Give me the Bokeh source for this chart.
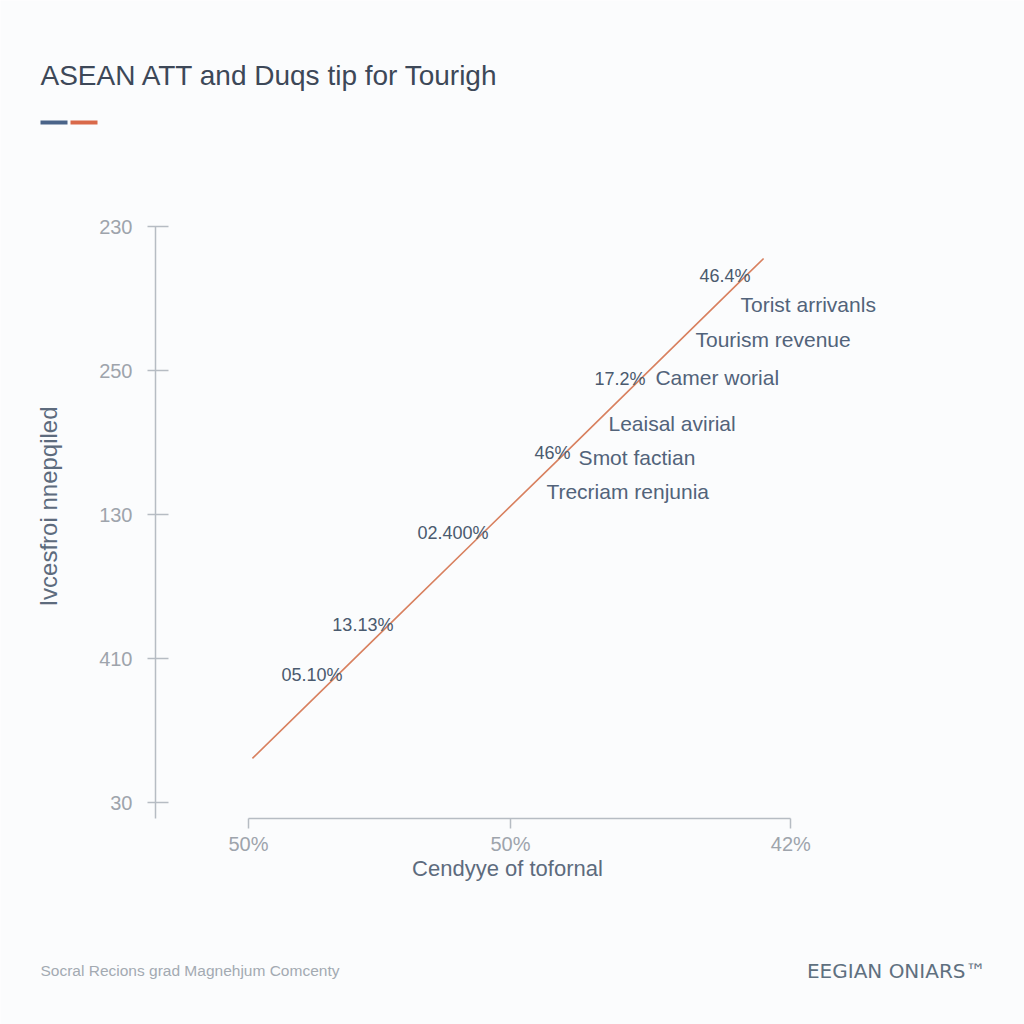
import math
from bokeh.plotting import figure
from bokeh.models import Range1d, FixedTicker, ColumnDataSource, LinearAxis
from bokeh.core.properties import value
from bokeh.embed import file_html
from bokeh.resources import INLINE

# ---------------- data ----------------
title_text = "ASEAN ATT and Duqs tip for Tourigh"
y_axis_title = "Ivcesfroi nnepqiled"
x_axis_title = "Cendyye of tofornal"
source_note = "Socral Recions grad Magnehjum Comcenty"
brand_note = "EEGIAN ONIARS\u2122"

y_tick_pos = [0, 1, 2, 3, 4]
y_tick_labels = ["30", "410", "130", "250", "230"]
x_tick_pos = [0.0, 1.0, 2.07]
x_tick_labels = ["50%", "50%", "42%"]

line_x = [0.015, 0.34, 0.534, 0.897, 1.21, 1.496, 1.897, 1.966]
line_y = [0.306, 0.885, 1.23, 1.875, 2.43, 2.94, 3.655, 3.778]

pct_x = [0.34, 0.534, 0.897, 1.21, 1.496, 1.897]
pct_y = [0.885, 1.23, 1.875, 2.43, 2.94, 3.655]
pct_labels = ["05.10%", "13.13%", "02.400%", "46%", "17.2%", "46.4%"]

cat_labels = ["Torist arrivanls", "Tourism revenue", "Camer worial",
              "Leaisal avirial", "Smot factian", "Trecriam renjunia"]
cat_x = [1.878, 1.706, 1.553, 1.374, 1.260, 1.137]
cat_y = [3.458, 3.215, 2.951, 2.632, 2.396, 2.160]

# ---------------- styles ----------------
BG = "#fbfcfd"
FONT = "Liberation Sans"
TEXT_DARK = "#3d4858"
TEXT_MID = "#52637a"
TEXT_LIGHT = "#9ea4ac"
AXIS_COL = "#b6bcc3"
LINE_COL = "#d8805f"

# page-pixel scale of the data space (x unit = 262 px from x=248, y unit = 144 px from y=802)
X0, XS, Y0, YS = 248.0, 262.0, 802.0, 144.0


def dx(px):
    return (px - X0) / XS


def dy(py):
    return (Y0 - py) / YS


p = figure(width=1024, height=1024,
           x_range=Range1d(dx(0), dx(1024)), y_range=Range1d(dy(1024), dy(0)),
           output_backend="svg", toolbar_location=None,
           x_axis_location=None, y_axis_location=None,
           min_border=0, min_border_left=0, min_border_right=0,
           min_border_top=0, min_border_bottom=0)
p.grid.visible = False
p.outline_line_color = None
p.background_fill_color = BG
p.border_fill_color = BG

yaxis = LinearAxis(fixed_location=dx(155), bounds=(dy(818), 4.0),
                   ticker=FixedTicker(ticks=y_tick_pos),
                   major_label_overrides={t: l for t, l in zip(y_tick_pos, y_tick_labels)},
                   major_tick_out=8, major_tick_in=13, major_label_standoff=15)
xaxis = LinearAxis(fixed_location=dy(818), bounds=(0.0, 2.07),
                   ticker=FixedTicker(ticks=x_tick_pos),
                   major_label_overrides={t: l for t, l in zip(x_tick_pos, x_tick_labels)},
                   major_tick_out=10, major_tick_in=0, major_label_standoff=4)
for ax in (xaxis, yaxis):
    ax.axis_line_color = AXIS_COL
    ax.axis_line_width = 1.5
    ax.major_tick_line_color = AXIS_COL
    ax.major_tick_line_width = 1.5
    ax.minor_tick_line_color = None
    ax.major_label_text_font = FONT
    ax.major_label_text_font_size = "20px"
    ax.major_label_text_color = TEXT_LIGHT
p.add_layout(yaxis, "left")
p.add_layout(xaxis, "below")

# axis titles
p.text(x=[dx(48)], y=[dy(506)], text=[y_axis_title], angle=math.pi / 2,
       text_font=value(FONT), text_font_size="24px", text_color="#5d6b7d",
       text_align="center", text_baseline="middle")
p.text(x=[dx(507)], y=[dy(868)], text=[x_axis_title],
       text_font=value(FONT), text_font_size="22px", text_color="#5d6b7d",
       text_align="center", text_baseline="middle")

# data line and annotations
p.line(line_x, line_y, line_color=LINE_COL, line_width=1.6)

pct_src = ColumnDataSource(dict(x=pct_x, y=pct_y, t=pct_labels))
p.text(x="x", y="y", text="t", source=pct_src, text_font=value(FONT),
       text_font_size="18px", text_color="#4a5a6e", text_align="right",
       text_baseline="middle", x_offset=5, y_offset=0)

cat_src = ColumnDataSource(dict(x=cat_x, y=cat_y, t=cat_labels))
p.text(x="x", y="y", text="t", source=cat_src, text_font=value(FONT),
       text_font_size="21px", text_color=TEXT_MID, text_align="left",
       text_baseline="middle")

# title, accent bars and footer notes
p.text(x=[dx(40)], y=[dy(75)], text=[title_text], text_font=value(FONT),
       text_font_size="28px", text_color=TEXT_DARK, text_align="left",
       text_baseline="middle")
p.quad(left=[dx(40), dx(70)], right=[dx(67), dx(97)],
       top=[dy(120), dy(120)], bottom=[dy(124), dy(124)],
       fill_color=["#4a6489", "#d9694a"], line_color=None)
p.text(x=[dx(40)], y=[dy(970)], text=[source_note], text_font=value(FONT),
       text_font_size="15.5px", text_color="#a3aab2", text_align="left",
       text_baseline="middle")
p.text(x=[dx(985)], y=[dy(970)], text=[brand_note], text_font=value("DejaVu Sans"),
       text_font_size="20px", text_color="#5f7080", text_align="right",
       text_baseline="middle")

open("out.html", "w").write(file_html(p, INLINE))
